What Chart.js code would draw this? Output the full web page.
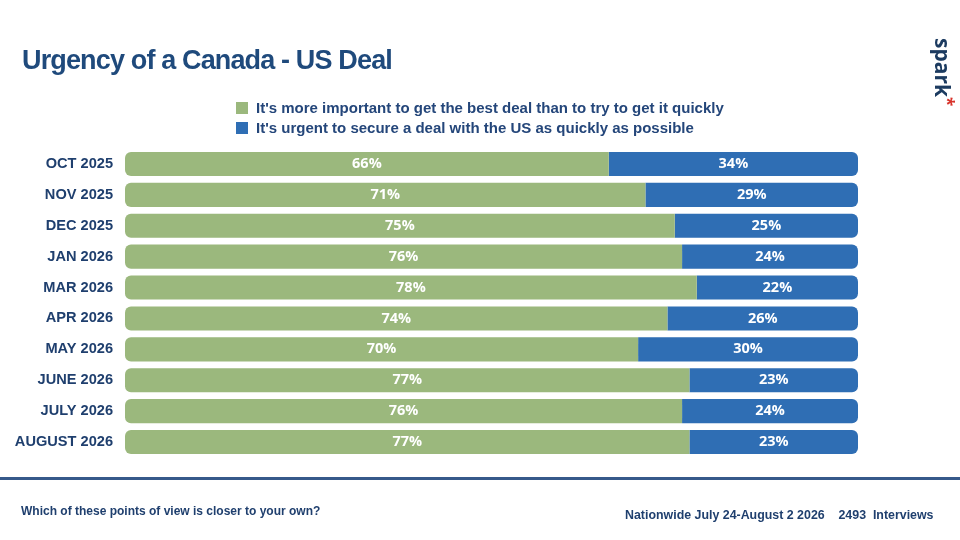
<!DOCTYPE html>
<html>
<head>
<meta charset="utf-8">
<script src="https://cdn.jsdelivr.net/npm/chart.js@4.4.1/dist/chart.umd.min.js"></script>
<style>
  html,body{margin:0;padding:0;background:#fff;width:960px;height:540px;overflow:hidden;}
  body{position:relative;font-family:"Liberation Sans",Arial,sans-serif;}
  #wrap{position:absolute;left:0;top:0;width:960px;height:540px;}
  .title{position:absolute;left:22px;top:45px;font-size:27px;font-weight:bold;color:#1F4A7C;letter-spacing:-0.85px;white-space:nowrap;}
  .legend{position:absolute;left:236px;top:98px;font-size:15px;font-weight:bold;color:#24467A;}
  .legend div{height:19.5px;line-height:19.5px;white-space:nowrap;}
  .legend span.sw{display:inline-block;width:12px;height:12px;margin-right:8px;vertical-align:-1px;}
  .spark{position:absolute;left:924px;top:38px;transform-origin:0 0;transform:translate(29px,0) rotate(90deg);font-family:"Open Sans",sans-serif;font-weight:bold;font-size:21px;color:#1C3B60;white-space:nowrap;line-height:1;}
  .spark b{color:#D8322A;font-weight:bold;font-size:17px;position:relative;top:-6px;}
  .rule{position:absolute;left:0;top:477px;width:960px;height:3px;background:#36598A;}
  .fl{position:absolute;left:21px;top:504px;font-size:12px;font-weight:bold;color:#1F3F6E;white-space:nowrap;}
  .fr{position:absolute;left:625px;top:508px;font-size:12.4px;font-weight:bold;color:#1F3F6E;white-space:pre;}
</style>
</head>
<body>
<div id="wrap"><canvas id="c" width="960" height="540"></canvas></div>
<div class="title">Urgency of a Canada - US Deal</div>
<div class="legend" id="legend"></div>
<div class="spark">spark<b>*</b></div>
<div class="rule"></div>
<div class="fl">Which of these points of view is closer to your own?</div>
<div class="fr">Nationwide July 24-August 2 2026    2493  Interviews</div>
<script>
const categories = ["OCT 2025","NOV 2025","DEC 2025","JAN 2026","MAR 2026","APR 2026","MAY 2026","JUNE 2026","JULY 2026","AUGUST 2026"];
const bestDeal = [66,71,75,76,78,74,70,77,76,77];
const urgent   = [34,29,25,24,22,26,30,23,24,23];
const seriesNames = ["It's more important to get the best deal than to try to get it quickly","It's urgent to secure a deal with the US as quickly as possible"];
const seriesColors = ["#9BB87D","#2F6EB4"];

const leg = document.getElementById('legend');
seriesNames.forEach((n,i)=>{
  const d=document.createElement('div');
  d.innerHTML='<span class="sw" style="background:'+seriesColors[i]+'"></span>'+n.replace(/'/g,"&#39;");
  leg.appendChild(d);
});

const labelPlugin = {
  id:'barLabels',
  afterDatasetsDraw(chart){
    const ctx=chart.ctx;
    ctx.save();
    ctx.fillStyle='#ffffff';
    ctx.font='bold 14.5px "Open Sans", sans-serif';
    ctx.textAlign='center';
    ctx.textBaseline='middle';
    chart.data.datasets.forEach((ds,di)=>{
      const meta=chart.getDatasetMeta(di);
      meta.data.forEach((el,i)=>{
        const p=el.getProps(['x','y','base'],true);
        const cx=(p.x+p.base)/2;
        ctx.fillText(ds.data[i]+'%',cx,p.y);
      });
    });
    ctx.restore();
  }
};

new Chart(document.getElementById('c'),{
  type:'bar',
  data:{
    labels:categories,
    datasets:[
      {label:seriesNames[0],data:bestDeal,backgroundColor:seriesColors[0],borderSkipped:false,
       borderRadius:{topLeft:6,bottomLeft:6,topRight:0,bottomRight:0}},
      {label:seriesNames[1],data:urgent,backgroundColor:seriesColors[1],borderSkipped:false,
       borderRadius:{topLeft:0,bottomLeft:0,topRight:6,bottomRight:6}}
    ]
  },
  options:{
    indexAxis:'y',
    responsive:false,
    animation:false,
    devicePixelRatio:1,
    layout:{padding:{left:0,top:148.5,right:102,bottom:82.5}},
    datasets:{bar:{categoryPercentage:1,barPercentage:0.78}},
    plugins:{legend:{display:false},tooltip:{enabled:false}},
    scales:{
      x:{stacked:true,min:0,max:100,display:false},
      y:{stacked:true,grid:{display:false},border:{display:false},
         afterFit(s){s.width=125;},
         ticks:{color:'#1F3F6E',padding:4,font:{family:'"Liberation Sans", Arial, sans-serif',size:14.6,weight:'bold'}}}
    }
  },
  plugins:[labelPlugin]
});
</script>
</body>
</html>
